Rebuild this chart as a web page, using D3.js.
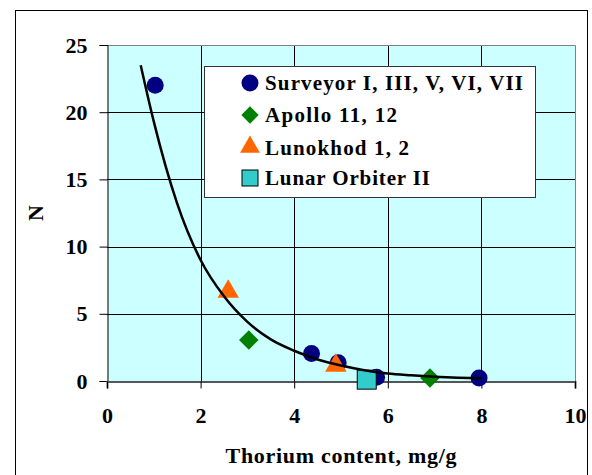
<!DOCTYPE html>
<html><head><meta charset="utf-8">
<script src="https://cdn.jsdelivr.net/npm/d3@7"></script>
<style>body{margin:0;background:#fff}svg{display:block}text{font-family:"Liberation Serif","Times New Roman",serif;font-weight:bold}</style>
</head><body><svg id="c" width="592" height="475"></svg>
<script>
const xTicks = [0, 2, 4, 6, 8, 10];
const yTicks = [0, 5, 10, 15, 20, 25];
const surveyor = [[1.03, 22.0], [4.37, 2.05], [4.94, 1.35], [5.76, 0.28], [7.95, 0.22]];
const apollo = [[3.03, 3.05], [6.9, 0.22]];
const lunokhod = [[2.59, 6.5], [4.89, 1.0]];
const orbiter = [[5.55, 0.1]];
const curve = [[0.72, 23.5], [1.0, 19.3], [1.5, 13.2], [2.0, 9.0], [2.5, 6.3], [3.0, 4.4], [3.5, 3.1], [4.0, 2.25], [4.5, 1.6], [5.0, 1.15], [5.5, 0.8], [6.0, 0.55], [6.5, 0.42], [7.0, 0.32], [7.5, 0.25], [8.0, 0.2]];
const seriesNames = ["Surveyor I, III, V, VI, VII", "Apollo 11, 12", "Lunokhod 1, 2", "Lunar Orbiter II"];

const svg = d3.select("#c");
const L = 107, R = 575, T = 45, B = 381;
const x = d3.scaleLinear().domain([0, 10]).range([L, R]);
const y = d3.scaleLinear().domain([0, 25]).range([B, T]);

svg.append("rect").attr("x", 15.5).attr("y", 10.5).attr("width", 572).attr("height", 480).attr("fill", "#fff").attr("stroke", "#000").attr("stroke-width", 1);
svg.append("rect").attr("x", L).attr("y", T).attr("width", R - L).attr("height", B - T).attr("fill", "#CCFFFF");

// grid
svg.append("g").selectAll("line").data(yTicks.filter(d => d > 0 && d < 25)).join("line")
  .attr("x1", L).attr("x2", R).attr("y1", d => Math.round(y(d)) + 0.5).attr("y2", d => Math.round(y(d)) + 0.5)
  .attr("stroke", "#000").attr("stroke-width", 1);
svg.append("g").selectAll("line").data(xTicks.filter(d => d > 0 && d < 10)).join("line")
  .attr("y1", T).attr("y2", B).attr("x1", d => Math.round(x(d)) + 0.5).attr("x2", d => Math.round(x(d)) + 0.5)
  .attr("stroke", "#000").attr("stroke-width", 1);
svg.append("path").attr("d", `M${L},${T + 0.5}H${R + 0.5}V${B}`).attr("fill", "none").attr("stroke", "#808080").attr("stroke-width", 1);

// axes
const yAxis = d3.axisLeft(y).tickValues(yTicks).tickSize(8).tickPadding(12).tickFormat(d3.format("d"));
const gy = svg.append("g").attr("transform", `translate(${L + 0.5},0)`).call(yAxis);
const xAxis = d3.axisBottom(x).tickValues(xTicks).tickSize(7).tickPadding(19).tickFormat(d3.format("d"));
const gx = svg.append("g").attr("transform", `translate(0,${B + 0.5})`).call(xAxis);
[gy, gx].forEach(g => {
  g.select(".domain").attr("stroke", "#000");
  g.selectAll(".tick line").attr("stroke", "#000");
  g.selectAll("text").attr("font-size", 22).attr("fill", "#000").style("font-family", "Liberation Serif").style("font-weight", "bold");
});
gx.select(".domain").attr("stroke", "#555").attr("stroke-width", 2);

// markers
const sym = (type, size) => d3.symbol().type(type).size(size)();
svg.append("g").selectAll("circle").data(surveyor).join("circle")
  .attr("cx", d => x(d[0])).attr("cy", d => y(d[1])).attr("r", 8.5).attr("fill", "#000080");
svg.append("g").selectAll("path").data(apollo).join("path")
  .attr("transform", d => `translate(${x(d[0])},${y(d[1])}) rotate(45)`)
  .attr("d", sym(d3.symbolSquare, 190)).attr("fill", "#008000");
svg.append("g").selectAll("path").data(lunokhod).join("path")
  .attr("transform", d => `translate(${x(d[0])},${y(d[1]) - 2})`)
  .attr("d", sym(d3.symbolTriangle, 200)).attr("fill", "#FF6600");
svg.append("g").selectAll("rect").data(orbiter).join("rect")
  .attr("x", d => x(d[0]) - 9.5).attr("y", d => y(d[1]) - 9.5).attr("width", 19).attr("height", 19)
  .attr("fill", "#33CCCC").attr("stroke", "#000").attr("stroke-width", 1);

// curve
const line = d3.line().x(d => x(d[0])).y(d => y(d[1])).curve(d3.curveMonotoneX);
svg.append("path").attr("d", line(curve)).attr("fill", "none").attr("stroke", "#000").attr("stroke-width", 2.5);

// axis titles
svg.append("text").attr("x", 341).attr("y", 463).attr("text-anchor", "middle").attr("font-size", 22)
  .attr("textLength", 231).attr("lengthAdjust", "spacing").text("Thorium content, mg/g");
svg.append("text").attr("transform", "translate(43,213) rotate(-90)").attr("text-anchor", "middle").attr("font-size", 22).text("N");

// legend
const lg = svg.append("g");
lg.append("rect").attr("x", 204.5).attr("y", 66.5).attr("width", 331).attr("height", 131).attr("fill", "#fff").attr("stroke", "#333").attr("stroke-width", 1);
const lys = [83, 115, 148, 178];
const widths = [258, 132, 144, 165];
seriesNames.forEach((n, i) => {
  const cx = 250, cy = lys[i];
  if (i === 0) lg.append("circle").attr("cx", cx).attr("cy", cy).attr("r", 8.5).attr("fill", "#000080");
  if (i === 1) lg.append("path").attr("transform", `translate(${cx},${cy}) rotate(45)`).attr("d", sym(d3.symbolSquare, 150)).attr("fill", "#008000");
  if (i === 2) lg.append("path").attr("transform", `translate(${cx},${cy - 1})`).attr("d", sym(d3.symbolTriangle, 170)).attr("fill", "#FF6600");
  if (i === 3) lg.append("rect").attr("x", cx - 8).attr("y", cy - 8).attr("width", 16).attr("height", 16).attr("fill", "#33CCCC").attr("stroke", "#000");
  lg.append("text").attr("x", 265).attr("y", cy + 7).attr("font-size", 21)
    .attr("textLength", widths[i]).attr("lengthAdjust", "spacing").text(n);
});
</script></body></html>
